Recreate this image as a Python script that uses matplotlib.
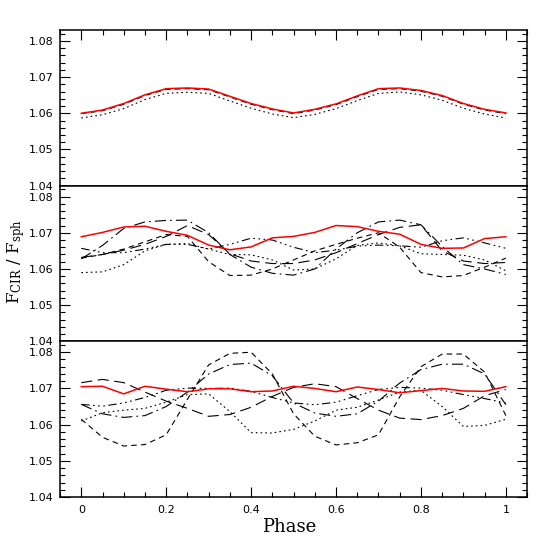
"""
Flux ratio F_CIR / F_sph versus rotational phase, three stacked panels.
"""
import matplotlib
matplotlib.use('Agg')
import matplotlib.pyplot as plt
from matplotlib.ticker import MultipleLocator

plt.rcParams['lines.scale_dashes'] = False
plt.rcParams['mathtext.fontset'] = 'dejavuserif'

phase = [0.00, 0.05, 0.10, 0.15, 0.20, 0.25, 0.30, 0.35, 0.40, 0.45, 0.50,
         0.55, 0.60, 0.65, 0.70, 0.75, 0.80, 0.85, 0.90, 0.95, 1.00]

# ── top panel ────────
top_red = [1.0600, 1.0609, 1.0627, 1.0651, 1.0668, 1.0670, 1.0667, 1.0647, 1.0627, 1.0612, 1.0601,
           1.0611, 1.0626, 1.0648, 1.0668, 1.0670, 1.0663, 1.0649, 1.0627, 1.0611, 1.0601]
top_dash = [1.0599, 1.0607, 1.0625, 1.0649, 1.0666, 1.0668, 1.0665, 1.0645, 1.0625, 1.0610, 1.0599,
            1.0609, 1.0624, 1.0646, 1.0666, 1.0668, 1.0661, 1.0647, 1.0625, 1.0609, 1.0599]
top_dot = [1.0587, 1.0596, 1.0613, 1.0638, 1.0655, 1.0658, 1.0655, 1.0634, 1.0614, 1.0598, 1.0588,
           1.0597, 1.0613, 1.0635, 1.0655, 1.0659, 1.0651, 1.0636, 1.0614, 1.0598, 1.0587]

# ── middle panel ────────
mid_red = [1.0689, 1.0701, 1.0716, 1.0718, 1.0704, 1.0693, 1.0666, 1.0653, 1.0661, 1.0686, 1.0690,
           1.0701, 1.0720, 1.0717, 1.0704, 1.0696, 1.0668, 1.0657, 1.0658, 1.0684, 1.0689]
mid_dashdot = [1.0628, 1.0665, 1.0712, 1.0730, 1.0734, 1.0735, 1.0700, 1.0640, 1.0605, 1.0588, 1.0583,
               1.0600, 1.0655, 1.0700, 1.0730, 1.0735, 1.0722, 1.0662, 1.0612, 1.0600, 1.0585]
mid_longdash = [1.0632, 1.0640, 1.0652, 1.0668, 1.0690, 1.0720, 1.0695, 1.0642, 1.0622, 1.0615, 1.0615,
                1.0625, 1.0645, 1.0670, 1.0695, 1.0715, 1.0722, 1.0650, 1.0622, 1.0615, 1.0618]
mid_dash = [1.0630, 1.0640, 1.0655, 1.0675, 1.0695, 1.0690, 1.0620, 1.0582, 1.0583, 1.0600, 1.0625,
            1.0650, 1.0668, 1.0685, 1.0700, 1.0660, 1.0590, 1.0578, 1.0582, 1.0605, 1.0630]
mid_dot = [1.0590, 1.0592, 1.0612, 1.0650, 1.0668, 1.0670, 1.0655, 1.0640, 1.0639, 1.0625, 1.0597,
           1.0600, 1.0628, 1.0665, 1.0672, 1.0664, 1.0642, 1.0640, 1.0638, 1.0625, 1.0595]
mid_dashdotdot = [1.0657, 1.0645, 1.0645, 1.0655, 1.0668, 1.0668, 1.0655, 1.0668, 1.0685, 1.0680, 1.0660,
                  1.0645, 1.0652, 1.0663, 1.0666, 1.0664, 1.0660, 1.0678, 1.0686, 1.0672, 1.0657]

# ── bottom panel ────────
bot_red = [1.0705, 1.0706, 1.0685, 1.0706, 1.0698, 1.0691, 1.0699, 1.0699, 1.0691, 1.0693, 1.0706,
           1.0700, 1.0691, 1.0704, 1.0697, 1.0688, 1.0694, 1.0700, 1.0693, 1.0692, 1.0705]
bot_dash = [1.0615, 1.0565, 1.0541, 1.0545, 1.0572, 1.0670, 1.0765, 1.0797, 1.0800, 1.0740, 1.0630,
            1.0568, 1.0544, 1.0550, 1.0572, 1.0677, 1.0760, 1.0795, 1.0795, 1.0745, 1.0625]
bot_dashdot = [1.0656, 1.0630, 1.0620, 1.0625, 1.0650, 1.0690, 1.0740, 1.0766, 1.0770, 1.0735, 1.0660,
               1.0632, 1.0623, 1.0630, 1.0665, 1.0715, 1.0752, 1.0767, 1.0767, 1.0740, 1.0655]
bot_longdash = [1.0716, 1.0725, 1.0716, 1.0690, 1.0665, 1.0645, 1.0623, 1.0628, 1.0648, 1.0678, 1.0703,
                1.0713, 1.0705, 1.0672, 1.0640, 1.0618, 1.0614, 1.0625, 1.0645, 1.0680, 1.0697]
bot_dot = [1.0610, 1.0633, 1.0640, 1.0645, 1.0662, 1.0683, 1.0685, 1.0636, 1.0578, 1.0577, 1.0587,
           1.0610, 1.0640, 1.0648, 1.0668, 1.0690, 1.0695, 1.0650, 1.0595, 1.0598, 1.0615]
bot_dashdotdot = [1.0656, 1.0651, 1.0660, 1.0675, 1.0695, 1.0701, 1.0700, 1.0701, 1.0692, 1.0675, 1.0660,
                  1.0655, 1.0662, 1.0680, 1.0697, 1.0703, 1.0701, 1.0695, 1.0683, 1.0672, 1.0660]

# line styles (points, unscaled)
LS = {
    'dash':      (0, (4, 3)),
    'longdash':  (0, (8, 4)),
    'dashdot':   (0, (8, 3, 1.2, 3)),
    'dashdotdot': (0, (6, 2.5, 1.2, 2.5, 1.2, 2.5, 1.2, 2.5)),
    'dot':       (0, (1.2, 2.2)),
}
RED = '#ff0000'
BLK_LW = 0.8
RED_LW = 1.1

panels = [
    [(top_dot, 'dot'), (top_dash, 'dash')],
    [(mid_dashdot, 'dashdot'), (mid_longdash, 'longdash'), (mid_dash, 'dash'),
     (mid_dot, 'dot'), (mid_dashdotdot, 'dashdotdot')],
    [(bot_dash, 'dash'), (bot_dashdot, 'dashdot'), (bot_longdash, 'longdash'),
     (bot_dot, 'dot'), (bot_dashdotdot, 'dashdotdot')],
]
reds = [top_red, mid_red, bot_red]

fig, axes = plt.subplots(3, 1, figsize=(5.56, 5.56), dpi=100, sharex=True,
                         gridspec_kw={'hspace': 0})
fig.subplots_adjust(left=0.108, right=0.948, top=0.946, bottom=0.106)

for i, ax in enumerate(axes):
    for vals, style in panels[i]:
        ax.plot(phase, vals, color='black', lw=BLK_LW, linestyle=LS[style])
    ax.plot(phase, reds[i], color=RED, lw=RED_LW)

    ax.set_xlim(-0.05, 1.05)
    ax.set_ylim(1.04, 1.083)
    ax.yaxis.set_major_locator(MultipleLocator(0.01))
    ax.yaxis.set_minor_locator(MultipleLocator(0.002))
    ax.xaxis.set_major_locator(MultipleLocator(0.2))
    ax.xaxis.set_minor_locator(MultipleLocator(0.05))
    ax.yaxis.set_major_formatter(plt.FormatStrFormatter('%.2f'))
    for sp in ax.spines.values():
        sp.set_linewidth(1.1)
    ax.tick_params(axis='y', which='both', direction='in', left=True, right=True,
                   labelsize=8, pad=5, width=0.8)
    ax.tick_params(axis='y', which='major', length=7)
    ax.tick_params(axis='y', which='minor', length=3.5)
    ax.tick_params(axis='x', which='both', direction='in', width=0.8,
                   top=(i == 0), bottom=(i == 2), labelbottom=(i == 2), labelsize=8, pad=6)
    ax.tick_params(axis='x', which='major', length=7)
    ax.tick_params(axis='x', which='minor', length=3.5)

axes[2].xaxis.set_major_formatter(plt.FuncFormatter(lambda v, p: f"{v:g}"))

fig.text(0.52, 0.052, "Phase", ha='center', va='center', fontsize=13,
         family='DejaVu Serif')
fig.text(0.028, 0.53, r"$\mathrm{F}_{\mathrm{CIR}}\ /\ \mathrm{F}_{\mathrm{sph}}$",
         rotation=90, ha='center', va='center', fontsize=12)

plt.savefig('out.png', dpi=100, facecolor='white')
plt.close()
